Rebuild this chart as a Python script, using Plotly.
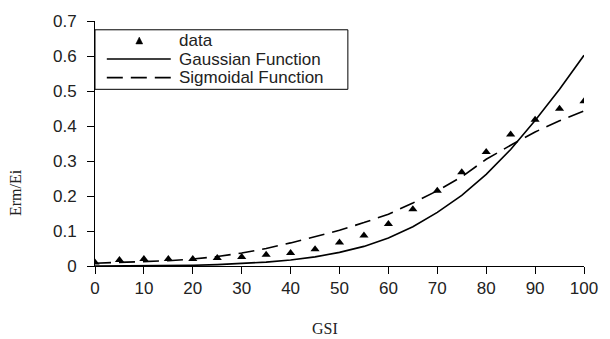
import plotly.graph_objects as go

gsi = [0, 5, 10, 15, 20, 25, 30, 35, 40, 45, 50, 55, 60, 65, 70, 75, 80, 85, 90, 95, 100]
data_vals = [0.010, 0.017, 0.020, 0.020, 0.020, 0.023, 0.026, 0.032, 0.037, 0.048, 0.067,
             0.087, 0.120, 0.162, 0.215, 0.268, 0.326, 0.376, 0.418, 0.449, 0.471]
gauss_vals = [0.000, 0.000, 0.001, 0.001, 0.002, 0.004, 0.007, 0.011, 0.017, 0.026, 0.039,
              0.056, 0.080, 0.112, 0.153, 0.202, 0.262, 0.333, 0.416, 0.505, 0.602]
sigm_vals = [0.008, 0.010, 0.012, 0.015, 0.020, 0.027, 0.037, 0.050, 0.066, 0.083, 0.102,
             0.124, 0.148, 0.180, 0.215, 0.255, 0.305, 0.345, 0.383, 0.415, 0.443]
series_names = ["data", "Gaussian Function", "Sigmoidal Function"]
x_ticks = [0, 10, 20, 30, 40, 50, 60, 70, 80, 90, 100]
y_ticks = [0, 0.1, 0.2, 0.3, 0.4, 0.5, 0.6, 0.7]
y_ticktext = ["0", "0.1", "0.2", "0.3", "0.4", "0.5", "0.6", "0.7"]

W, H = 610, 339
L, R, T, B = 95, 18, 15, 73
PW, PH = W - L - R, H - T - B


def px(xp):
    return (xp - L) / PW


def py(yp):
    return (H - B - yp) / PH


DASH = "16px,8px"

fig = go.Figure()
fig.add_trace(go.Scatter(x=gsi, y=data_vals, mode="markers", name=series_names[0],
                         marker=dict(symbol="triangle-up", size=8, color="black")))
fig.add_trace(go.Scatter(x=gsi, y=gauss_vals, mode="lines", name=series_names[1],
                         line=dict(color="black", width=1.6)))
fig.add_trace(go.Scatter(x=gsi, y=sigm_vals, mode="lines", name=series_names[2],
                         line=dict(color="black", width=1.6, dash=DASH)))

axis_font = dict(family="Liberation Sans, Arial", size=17, color="#222")
serif = dict(family="Liberation Serif, Times New Roman", size=16, color="#222")
leg_font = dict(family="Liberation Sans, Arial", size=17, color="#222")

# legend box drawn by hand to match the original's compact layout
row_y = [35, 54, 73]
shapes = [
    dict(type="rect", xref="paper", yref="paper", x0=px(95), x1=px(352), y0=py(24), y1=py(85),
         line=dict(color="black", width=1), fillcolor="white", layer="above"),
    dict(type="path", xref="paper", yref="paper",
         path=f"M {px(136.5)} {py(row_y[0] + 3.5)} L {px(143.5)} {py(row_y[0] + 3.5)} L {px(140)} {py(row_y[0] - 3.5)} Z",
         fillcolor="black", line=dict(color="black", width=0.5), layer="above"),
    dict(type="line", xref="paper", yref="paper", x0=px(107), x1=px(172), y0=py(row_y[1]), y1=py(row_y[1]),
         line=dict(color="black", width=1.6), layer="above"),
    dict(type="line", xref="paper", yref="paper", x0=px(107), x1=px(172), y0=py(row_y[2]), y1=py(row_y[2]),
         line=dict(color="black", width=1.6, dash=DASH), layer="above"),
]
annotations = [
    dict(text=name, xref="paper", yref="paper", x=px(178), y=py(yy), xanchor="left", yanchor="middle",
         showarrow=False, font=leg_font)
    for name, yy in zip(series_names, row_y)
]
annotations += [
    dict(text="GSI", xref="paper", yref="paper", x=px(329), y=py(330),
         xanchor="center", yanchor="middle", showarrow=False, font=serif),
    dict(text="Erm/Ei", xref="paper", yref="paper", x=px(14), y=py(191),
         xanchor="center", yanchor="middle", showarrow=False, textangle=-90, font=serif),
]

fig.update_layout(
    width=W, height=H,
    margin=dict(l=L, r=R, t=T, b=B),
    paper_bgcolor="white", plot_bgcolor="white",
    showlegend=False,
    xaxis=dict(range=[0, 100], tickvals=x_ticks, showgrid=False, zeroline=False,
               showline=True, linecolor="black", linewidth=1, ticks="outside",
               ticklen=7, tickcolor="black", tickfont=axis_font),
    yaxis=dict(range=[0, 0.7], tickvals=y_ticks, ticktext=y_ticktext,
               showgrid=False, zeroline=False,
               showline=True, linecolor="black", linewidth=1, ticks="outside",
               ticklen=7, tickcolor="black", tickfont=axis_font, ticklabelstandoff=7),
    shapes=shapes,
    annotations=annotations,
)

fig.write_html("out.html")
